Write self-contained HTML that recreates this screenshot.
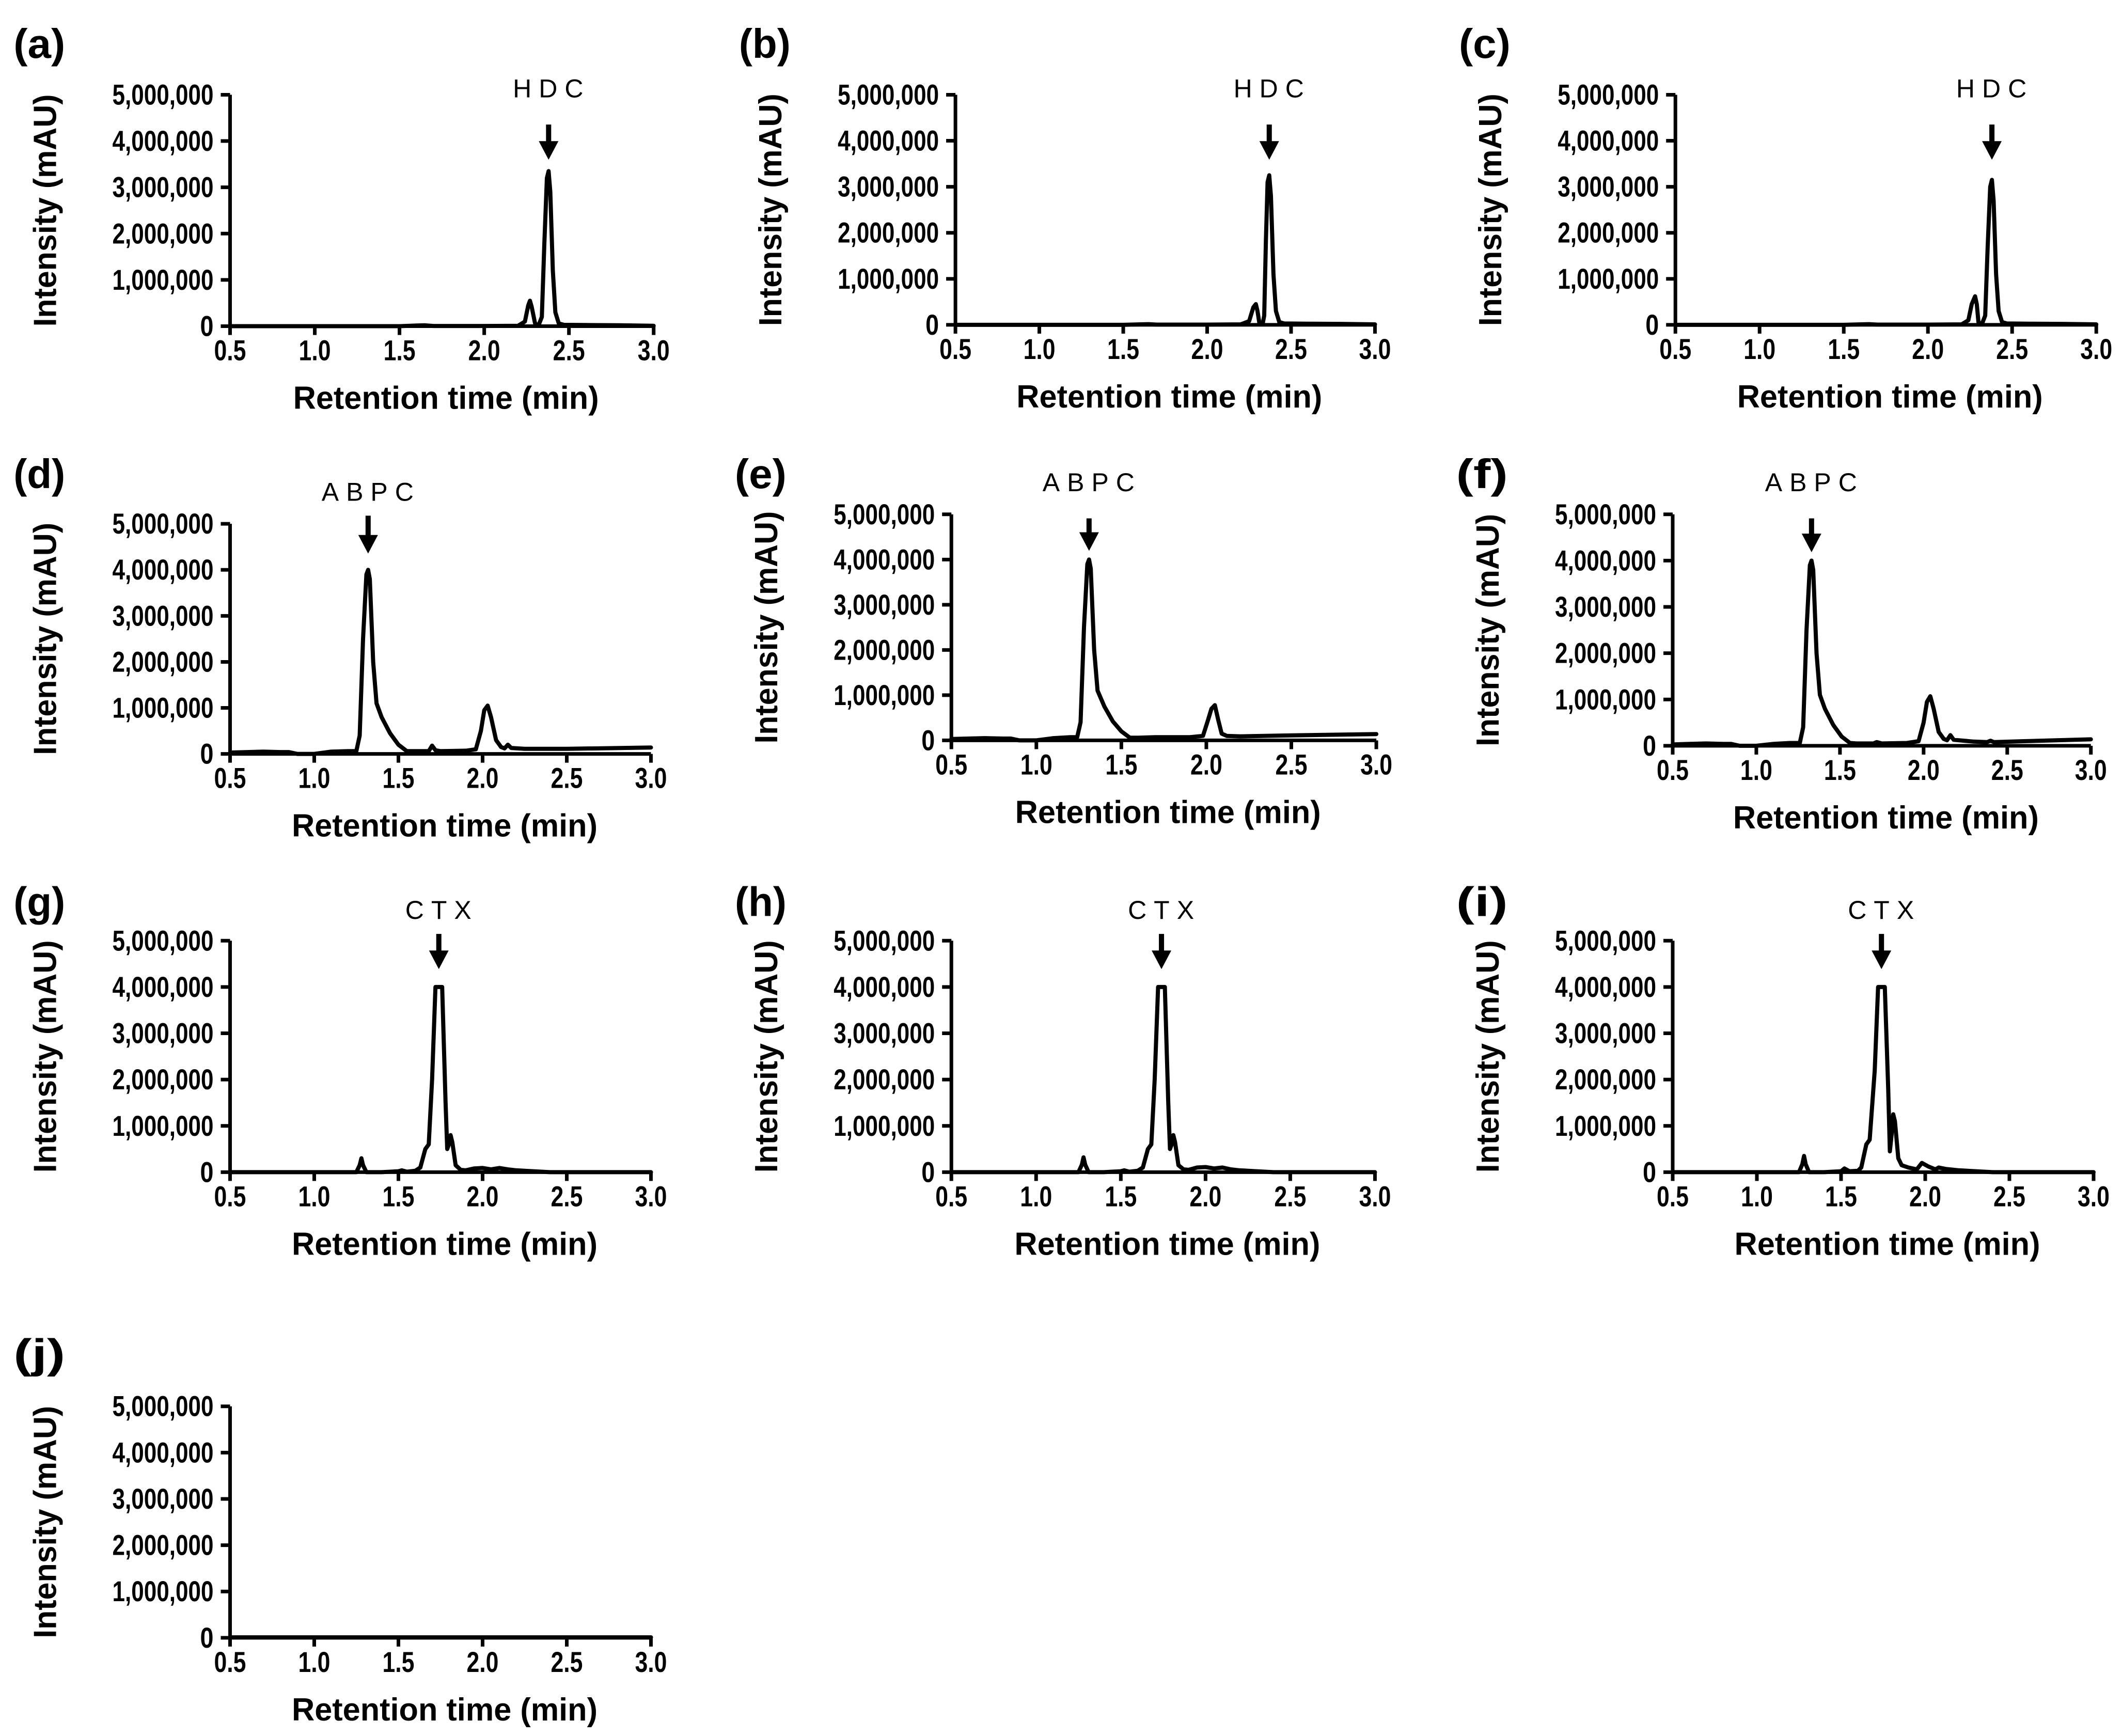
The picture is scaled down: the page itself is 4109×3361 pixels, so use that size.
<!DOCTYPE html>
<html><head><meta charset="utf-8">
<style>
html,body{margin:0;padding:0;background:#fff;}
svg{display:block;}
</style></head>
<body>
<svg id="fig" width="4109" height="3361" viewBox="0 0 4109 3361" xmlns="http://www.w3.org/2000/svg"></svg>
<script>
// ---- data (retention time in min, intensity in mAU) ----
const xTicks = [0.5, 1.0, 1.5, 2.0, 2.5, 3.0];
const xTickLabels = ["0.5", "1.0", "1.5", "2.0", "2.5", "3.0"];
const yTicks = [0, 1000000, 2000000, 3000000, 4000000, 5000000];
const yTickLabels = ["0", "1,000,000", "2,000,000", "3,000,000", "4,000,000", "5,000,000"];
const panelIds = ["a","b","c","d","e","f","g","h","i","j"];
const compoundNames = ["HDC","HDC","HDC","ABPC","ABPC","ABPC","CTX","CTX","CTX",""];
const peakTimes = [2.38, 2.37, 2.38, 1.32, 1.31, 1.33, 1.74, 1.74, 1.74, null];

const timeA = [0.5,1.0,1.5,1.6,1.65,1.7,2.0,2.2,2.24,2.26,2.27,2.28,2.30,2.32,2.34,2.355,2.37,2.38,2.39,2.405,2.42,2.44,2.47,2.6,2.8,3.0];
const intA  = [0,0,0,15000,20000,5000,5000,10000,100000,450000,550000,420000,60000,10000,200000,1800000,3200000,3350000,2900000,1200000,300000,60000,30000,25000,20000,10000];
const timeB = [0.5,1.0,1.5,1.6,1.65,1.7,2.0,2.2,2.25,2.275,2.29,2.30,2.31,2.33,2.34,2.35,2.36,2.37,2.38,2.395,2.41,2.43,2.46,2.6,2.8,3.0];
const intB  = [0,0,0,10000,15000,5000,5000,10000,80000,380000,450000,300000,60000,10000,200000,1800000,3100000,3250000,2800000,1100000,300000,60000,30000,25000,20000,10000];
const timeC = [0.5,1.0,1.5,1.6,1.65,1.7,2.0,2.2,2.24,2.26,2.28,2.29,2.30,2.32,2.34,2.355,2.37,2.38,2.39,2.405,2.42,2.44,2.47,2.6,2.8,3.0];
const intC  = [0,0,0,10000,15000,5000,5000,10000,100000,450000,620000,450000,60000,10000,200000,1700000,3000000,3150000,2700000,1100000,300000,60000,30000,25000,20000,10000];

const timeD = [0.5,0.6,0.7,0.8,0.85,0.9,1.0,1.1,1.2,1.25,1.27,1.29,1.31,1.32,1.33,1.35,1.37,1.4,1.45,1.5,1.55,1.6,1.68,1.70,1.72,1.75,1.9,1.96,1.99,2.01,2.03,2.05,2.08,2.11,2.13,2.15,2.17,2.25,2.5,3.0];
const intD  = [30000,40000,50000,40000,40000,0,0,50000,60000,60000,400000,2500000,3900000,4000000,3800000,2000000,1100000,800000,450000,200000,60000,60000,60000,180000,80000,60000,70000,100000,500000,950000,1050000,800000,300000,150000,120000,200000,130000,110000,110000,140000];
const timeE = [0.5,0.6,0.7,0.8,0.85,0.9,1.0,1.1,1.2,1.24,1.26,1.28,1.30,1.31,1.32,1.34,1.36,1.4,1.45,1.5,1.55,1.6,1.7,1.8,1.9,1.98,2.01,2.03,2.05,2.07,2.09,2.12,2.2,2.5,3.0];
const intE  = [30000,40000,50000,40000,40000,0,0,50000,70000,70000,400000,2500000,3900000,4000000,3800000,2000000,1100000,750000,420000,200000,60000,60000,70000,70000,70000,100000,450000,700000,780000,450000,150000,100000,90000,110000,140000];
const timeF = [0.5,0.6,0.7,0.8,0.85,0.9,1.0,1.1,1.2,1.26,1.28,1.30,1.32,1.33,1.34,1.36,1.38,1.41,1.46,1.51,1.56,1.6,1.70,1.72,1.75,1.9,1.97,2.00,2.02,2.04,2.06,2.09,2.12,2.14,2.16,2.18,2.3,2.38,2.40,2.42,2.6,3.0];
const intF  = [30000,40000,50000,40000,40000,0,0,40000,60000,60000,400000,2500000,3900000,4000000,3800000,2000000,1100000,800000,450000,200000,60000,50000,50000,80000,50000,60000,100000,500000,950000,1070000,800000,300000,150000,120000,230000,130000,90000,80000,110000,80000,100000,140000];

const timeG = [0.5,1.0,1.2,1.25,1.27,1.28,1.29,1.31,1.4,1.5,1.52,1.55,1.6,1.63,1.66,1.68,1.70,1.72,1.76,1.78,1.79,1.80,1.81,1.82,1.84,1.87,1.9,1.95,2.0,2.05,2.1,2.15,2.2,2.3,2.4,2.5,3.0];
const intG  = [0,0,0,0,150000,300000,150000,0,0,20000,40000,10000,30000,100000,500000,600000,2000000,4000000,4000000,1500000,500000,600000,800000,650000,150000,50000,40000,80000,90000,60000,90000,60000,40000,20000,0,0,0];
const timeH = [0.5,1.0,1.2,1.25,1.27,1.28,1.29,1.31,1.4,1.5,1.52,1.55,1.6,1.63,1.66,1.68,1.70,1.72,1.76,1.78,1.79,1.80,1.81,1.82,1.84,1.87,1.9,1.95,2.0,2.05,2.1,2.15,2.2,2.3,2.4,2.5,3.0];
const intH  = [0,0,0,0,160000,320000,160000,0,0,20000,40000,10000,30000,100000,500000,600000,2000000,4000000,4000000,1500000,500000,600000,800000,650000,150000,60000,50000,100000,110000,80000,100000,60000,40000,20000,0,0,0];
const timeI = [0.5,1.0,1.2,1.25,1.27,1.28,1.29,1.31,1.4,1.5,1.52,1.55,1.6,1.62,1.65,1.67,1.70,1.72,1.76,1.78,1.79,1.80,1.81,1.82,1.84,1.86,1.9,1.95,1.98,2.02,2.06,2.08,2.12,2.2,2.3,2.4,2.5,3.0];
const intI  = [0,0,0,0,170000,350000,170000,0,0,20000,80000,20000,30000,100000,600000,700000,2200000,4000000,4000000,1800000,450000,800000,1250000,1100000,300000,150000,100000,60000,200000,120000,60000,100000,70000,40000,20000,0,0,0];
const timeJ = [0.5,1.0,1.5,2.0,2.5,3.0];
const intJ  = [10000,10000,10000,10000,10000,10000];

const seriesTimes = [timeA,timeB,timeC,timeD,timeE,timeF,timeG,timeH,timeI,timeJ];
const seriesInts  = [intA,intB,intC,intD,intE,intF,intG,intH,intI,intJ];

// ---- layout (pixel geometry) ----
const S = 4109/1568;
const layout = [
  {x0:170,x1:483,y0:241,y5:70, lab:-5, arT:22, arB:48, py:32},
  {x0:706,x1:1016,y0:240,y5:70, lab:-5, arT:22, arB:48, py:32},
  {x0:1238,x1:1549,y0:240,y5:70, lab:-5, arT:22, arB:48, py:32},
  {x0:170,x1:481,y0:557,y5:387, lab:-24, arT:-6, arB:22, py:350},
  {x0:703,x1:1017,y0:547,y5:380, lab:-24, arT:3, arB:27, py:350},
  {x0:1236,x1:1545,y0:551,y5:380, lab:-24, arT:3, arB:28, py:350},
  {x0:170,x1:481,y0:866,y5:695, lab:-23, arT:-5, arB:21, py:666},
  {x0:703,x1:1016,y0:866,y5:695, lab:-23, arT:-5, arB:21, py:666},
  {x0:1236,x1:1547,y0:866,y5:695, lab:-23, arT:-5, arB:21, py:666},
  {x0:170,x1:481,y0:1210,y5:1039, lab:0, arT:0, arB:0, py:1000}
];

const NS = "http://www.w3.org/2000/svg";
const svg = document.getElementById('fig');
function mk(tag, attrs, parent){
  const e = document.createElementNS(NS, tag);
  for (const k in attrs) e.setAttribute(k, attrs[k]);
  (parent||svg).appendChild(e);
  return e;
}
const FONT = '"Liberation Sans", Arial, sans-serif';

layout.forEach((L, p) => {
  const X0 = L.x0*S, X1 = L.x1*S, Y0 = L.y0*S, Y5 = L.y5*S;
  const xs = t => X0 + (t - 0.5)/(3.0 - 0.5)*(X1 - X0);
  const ys = v => Y0 - v/5000000*(Y0 - Y5);
  const g = mk('g', {});
  
  

  const pl = mk('text', {x: X0 - 160*S, y: L.py*S + 28, 'font-family': FONT, 'font-weight': 'bold', 'font-size': 80, fill: '#000', textLength: 100, lengthAdjust: 'spacingAndGlyphs'}, g);
  pl.textContent = '(' + panelIds[p] + ')';
  
  

  // series
  const tt = seriesTimes[p], vv = seriesInts[p];
  let d = '';
  for (let i = 0; i < tt.length; i++) d += (i ? 'L' : 'M') + xs(tt[i]).toFixed(1) + ' ' + ys(vv[i]).toFixed(1);
  const path = mk('path', {d: d, fill: 'none', stroke: '#000', 'stroke-width': 8, 'stroke-linejoin': 'round', 'stroke-linecap': 'round'}, g);
  
  

  // axes
  const ax = mk('path', {d: `M${X0} ${Y5}L${X0} ${Y0}L${X1} ${Y0}`, fill: 'none', stroke: '#000', 'stroke-width': 7}, g);
  
  
  yTicks.forEach((v, i) => {
    const y = ys(v);
    mk('line', {x1: X0 - 18, x2: X0, y1: y, y2: y, stroke: '#000', 'stroke-width': 7}, g);
    const attrs = {x: X0 - 32, y: y + 19, 'text-anchor': 'end', 'font-family': FONT, 'font-weight': 'bold', 'font-size': 56, fill: '#000'};
    if (yTickLabels[i].length > 3) { attrs.textLength = 196; attrs.lengthAdjust = 'spacingAndGlyphs'; }
    else { attrs.textLength = 26; attrs.lengthAdjust = 'spacingAndGlyphs'; }
    const t = mk('text', attrs, g);
    t.textContent = yTickLabels[i];
    
    
  });
  xTicks.forEach((v, i) => {
    const x = xs(v);
    mk('line', {x1: x, x2: x, y1: Y0, y2: Y0 + 17, stroke: '#000', 'stroke-width': 7}, g);
    const t = mk('text', {x: x, y: Y0 + 66, 'text-anchor': 'middle', 'font-family': FONT, 'font-weight': 'bold', 'font-size': 56, fill: '#000', textLength: 62, lengthAdjust: 'spacingAndGlyphs'}, g);
    t.textContent = xTickLabels[i];
    
    
  });
  const xt = mk('text', {x: (X0 + X1)/2 + 8, y: Y0 + 160, 'text-anchor': 'middle', 'font-family': FONT, 'font-weight': 'bold', 'font-size': 62, fill: '#000', textLength: 592, lengthAdjust: 'spacingAndGlyphs'}, g);
  xt.textContent = 'Retention time (min)';
  
  
  const cy = (Y0 + Y5)/2, cx = X0 - 137*S;
  const yt = mk('text', {x: cx, y: cy, transform: `rotate(-90 ${cx} ${cy})`, 'text-anchor': 'middle', dy: 22, 'font-family': FONT, 'font-weight': 'bold', 'font-size': 62, fill: '#000', textLength: 450, lengthAdjust: 'spacingAndGlyphs'}, g);
  yt.textContent = 'Intensity (mAU)';
  
  

  // annotation
  if (compoundNames[p]) {
    const px = xs(peakTimes[p]);
    const lt = mk('text', {x: px + 6, y: Y5 + L.lab*S + 18, 'text-anchor': 'middle', 'font-family': FONT, 'font-size': 50, 'letter-spacing': 14, fill: '#000'}, g);
    lt.textContent = compoundNames[p];
    
    
    const top = Y5 + L.arT*S, tip = Y5 + L.arB*S, hh = 36;
    const ar = mk('path', {d: `M${px-5} ${top}L${px+5} ${top}L${px+5} ${tip-hh}L${px+19} ${tip-hh}L${px} ${tip}L${px-19} ${tip-hh}L${px-5} ${tip-hh}Z`, fill: '#000'}, g);
    
    
  }
});
</script>
</body></html>
